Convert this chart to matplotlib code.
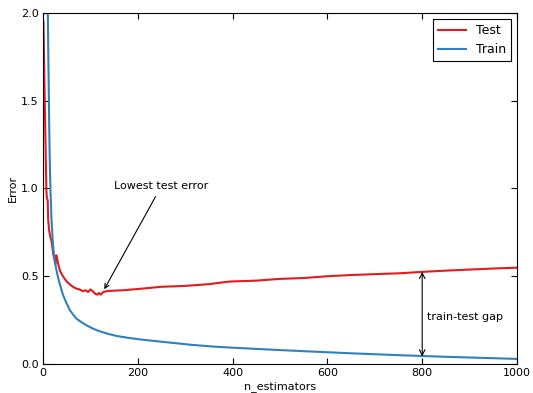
import matplotlib
matplotlib.use("Agg")
import matplotlib.pyplot as plt

# ---- data ----
test_x = [1, 3, 5, 7, 8, 10, 11, 13, 15, 18, 20, 22, 24, 26, 28, 30, 32, 36, 42,
          50, 56, 63, 70, 77, 84, 90, 95, 100, 105, 110, 115, 118, 122, 127, 135,
          150, 169, 190, 211, 250, 300, 350, 394, 450, 500, 550, 600, 650, 700,
          753, 800, 850, 900, 950, 1000]
test_y = [1.95, 1.60, 1.30, 1.00, 0.95, 0.93, 0.82, 0.76, 0.73, 0.70, 0.66, 0.62,
          0.60, 0.57, 0.62, 0.60, 0.57, 0.53, 0.50, 0.47, 0.455, 0.44, 0.43, 0.425,
          0.415, 0.42, 0.41, 0.425, 0.415, 0.40, 0.395, 0.405, 0.395, 0.41, 0.415,
          0.418, 0.42, 0.425, 0.43, 0.44, 0.445, 0.455, 0.47, 0.475, 0.485, 0.49,
          0.50, 0.507, 0.512, 0.517, 0.525, 0.532, 0.538, 0.544, 0.549]

train_x = [1, 3, 5, 7, 8, 9, 10, 11, 12, 13, 14, 15, 16, 18, 21, 24, 28, 32, 35,
           42, 49, 56, 63, 70, 80, 91, 105, 120, 137, 155, 180, 211, 250, 310,
           360, 400, 465, 550, 650, 753, 850, 1000]
train_y = [4.50, 3.50, 2.90, 2.50, 2.40, 2.25, 2.05, 1.80, 1.60, 1.38, 1.20, 1.07,
           0.97, 0.82, 0.68, 0.60, 0.54, 0.49, 0.46, 0.395, 0.35, 0.31, 0.283,
           0.26, 0.24, 0.222, 0.202, 0.186, 0.172, 0.16, 0.149, 0.138, 0.127,
           0.11, 0.099, 0.093, 0.084, 0.073, 0.061, 0.05, 0.041, 0.029]

x_ticks = [0, 200, 400, 600, 800, 1000]
y_ticks = [0.0, 0.5, 1.0, 1.5, 2.0]

gap_x = 800
gap_test = 0.525
gap_train = 0.043
lowest_x = 125
lowest_y = 0.405

# ---- figure ----
plt.rcParams['font.family'] = ['DejaVu Sans']
fig = plt.figure(figsize=(5.33, 3.93), dpi=100)
ax = fig.add_axes([43 / 533, 1 - 364 / 393, 474 / 533, 351 / 393])

ax.plot(test_x, test_y, color='#e41a1c', lw=1.5, label='Test')
ax.plot(train_x, train_y, color='#2f80c0', lw=1.5, label='Train')

ax.set_xlim(0, 1000)
ax.set_ylim(0, 2.0)
ax.set_xticks(x_ticks)
ax.set_yticks(y_ticks)
ax.set_yticklabels([f"{v:.1f}" for v in y_ticks])
ax.tick_params(direction='in', top=True, right=True, labelsize=8, length=4, pad=3)
ax.set_xlabel('n_estimators', fontsize=8, labelpad=2)
ax.set_ylabel('Error', fontsize=8, labelpad=2)

leg = ax.legend(loc='upper right', fontsize=9, fancybox=False, framealpha=1,
                edgecolor='black', handlelength=2.2, borderpad=0.4)
leg.get_frame().set_linewidth(0.8)

ax.annotate('Lowest test error', xy=(lowest_x, lowest_y), xytext=(150, 0.995),
            fontsize=8, ha='left', va='baseline',
            arrowprops=dict(arrowstyle='->', color='black', lw=0.8, shrinkA=2, shrinkB=3))
ax.annotate('', xy=(gap_x, gap_test), xytext=(gap_x, gap_train),
            arrowprops=dict(arrowstyle='<->', color='black', lw=0.8, shrinkA=0, shrinkB=0))
ax.text(gap_x + 10, (gap_test + gap_train) / 2 - 0.016, 'train-test gap', fontsize=8,
        ha='left', va='center')

fig.savefig('out.png', dpi=100)
